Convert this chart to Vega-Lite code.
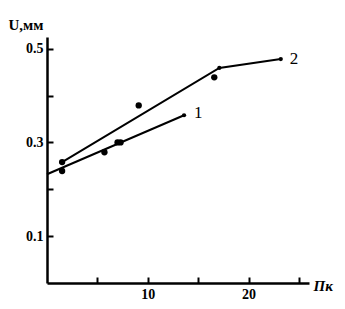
{
  "$schema": "https://vega.github.io/schema/vega-lite/v6.json",
  "width": 262,
  "height": 246,
  "autosize": {"type": "none"},
  "padding": {"left": 47, "top": 37, "right": 36, "bottom": 26},
  "background": "white",
  "config": {
    "view": {"stroke": null},
    "axis": {
      "grid": false,
      "ticks": true,
      "domainColor": "black",
      "domainWidth": 2.5,
      "tickColor": "black",
      "tickWidth": 2,
      "tickOpacity": 1,
      "labelFont": "Liberation Serif",
      "labelFontWeight": "bold",
      "labelFontSize": 14,
      "labelColor": "black",
      "titleFont": "Liberation Serif",
      "titleFontWeight": "bold",
      "titleFontSize": 15,
      "titleColor": "black"
    }
  },
  "datasets": {
    "lines": [
      {"series": "1", "x": 0, "u": 0.232},
      {"series": "1", "x": 13.6, "u": 0.358},
      {"series": "2", "x": 1.5, "u": 0.258},
      {"series": "2", "x": 17.1, "u": 0.459},
      {"series": "2", "x": 23.2, "u": 0.478}
    ],
    "points": [
      {"series": "1", "x": 1.5, "u": 0.239, "kind": "big"},
      {"series": "1", "x": 5.7, "u": 0.279, "kind": "big"},
      {"series": "1", "x": 7.0, "u": 0.300, "kind": "big"},
      {"series": "1", "x": 7.3, "u": 0.300, "kind": "big"},
      {"series": "1", "x": 13.6, "u": 0.358, "kind": "small"},
      {"series": "2", "x": 1.5, "u": 0.258, "kind": "big"},
      {"series": "2", "x": 9.1, "u": 0.379, "kind": "big"},
      {"series": "2", "x": 16.6, "u": 0.439, "kind": "big"},
      {"series": "2", "x": 17.1, "u": 0.459, "kind": "small"},
      {"series": "2", "x": 23.2, "u": 0.478, "kind": "small"}
    ],
    "labels": [
      {"label": "1", "x": 15.0, "u": 0.363},
      {"label": "2", "x": 24.5, "u": 0.478}
    ]
  },
  "encoding": {
    "x": {
      "field": "x", "type": "quantitative",
      "scale": {"domain": [0, 26], "nice": false, "zero": false},
      "axis": {
        "values": [5, 10, 15, 20, 25],
        "labelExpr": "datum.value % 10 === 0 ? datum.label : ''",
        "tickSize": -6,
        "labelPadding": 10,
        "title": "Пк",
        "titleFontStyle": "italic",
        "titleAngle": 0,
        "titleAlign": "left",
        "titleBaseline": "alphabetic",
        "titleX": 266,
        "titleY": 7
      }
    },
    "y": {
      "field": "u", "type": "quantitative",
      "scale": {"domain": [0, 0.525], "nice": false},
      "axis": {
        "values": [0.1, 0.2, 0.3, 0.4, 0.5],
        "labelExpr": "datum.value === 0.2 || datum.value === 0.4 ? '' : format(datum.value, '.1f')",
        "tickSize": -6,
        "labelPadding": 10,
        "title": "U,мм",
        "titleAngle": 0,
        "titleAlign": "left",
        "titleBaseline": "alphabetic",
        "titleX": -39,
        "titleY": -8
      }
    }
  },
  "layer": [
    {
      "data": {"name": "lines"},
      "mark": {"type": "line", "color": "black", "strokeWidth": 2},
      "encoding": {"detail": {"field": "series"}}
    },
    {
      "data": {"name": "points"},
      "mark": {"type": "circle", "color": "black", "opacity": 1},
      "encoding": {
        "size": {
          "field": "kind", "type": "nominal",
          "scale": {"domain": ["big", "small"], "range": [40, 18]},
          "legend": null
        }
      }
    },
    {
      "data": {"name": "labels"},
      "mark": {"type": "text", "font": "Liberation Serif", "fontSize": 17, "color": "black", "align": "center", "baseline": "middle"},
      "encoding": {"text": {"field": "label"}}
    }
  ]
}
